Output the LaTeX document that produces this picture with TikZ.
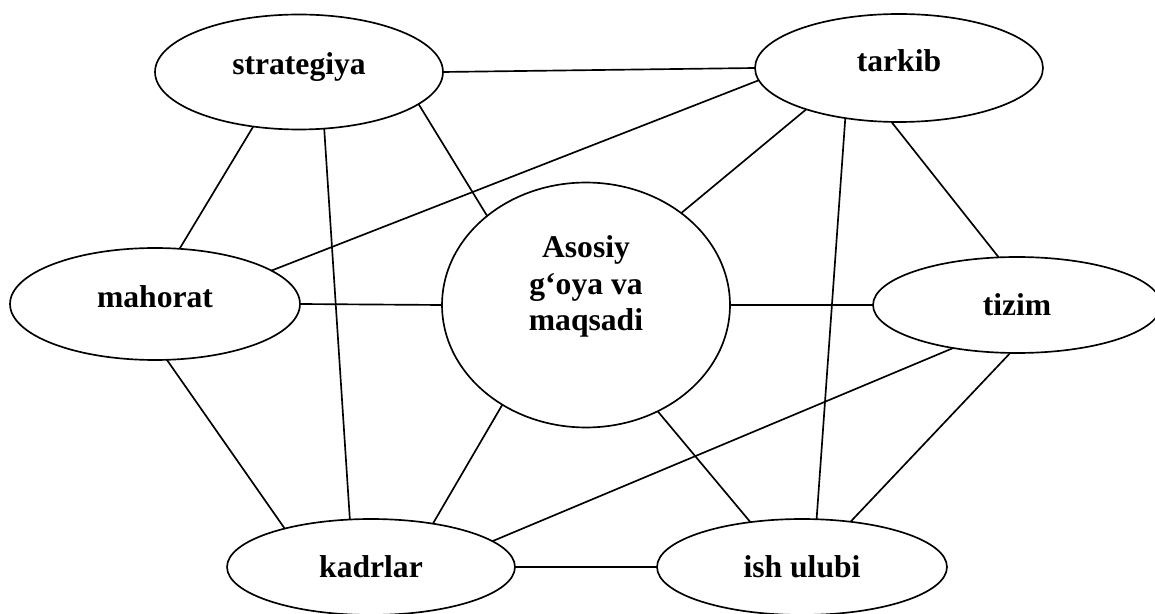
\documentclass[tikz,border=0pt]{standalone}
\usepackage{fontspec}
\setmainfont{Liberation Serif}
\usetikzlibrary{shapes.geometric}

\begin{document}
\begin{tikzpicture}[
    x=0.02cm, y=-0.02cm,
    bubble/.style={ellipse, draw, line width=0.95pt, inner sep=0pt, outer sep=0pt,
                   minimum width=5.76cm, minimum height=1.92cm, align=center,
                   font=\fontsize{18}{20.5}\selectfont\bfseries},
    link/.style={draw, line width=0.95pt}
]
    \useasboundingbox (0,0) rectangle (1155,614);
    % Central idea
    \node[bubble, minimum height=4.9cm, text depth=25pt] (goal) at (586,305) {Asosiy\\g‘oya va\\maqsadi};
    % Outer ring
    \node[bubble, minimum height=2.3cm, text depth=10pt] (strat) at (299,72) {strategiya};
    \node[bubble, minimum height=2.16cm, text depth=9pt] (tarkib) at (899,68) {tarkib};
    \node[bubble, minimum width=5.8cm, minimum height=2.24cm, text depth=9pt] (mahorat) at (155,304) {mahorat};
    \node[bubble] (tizim) at (1017,305) {tizim};
    \node[bubble] (kadrlar) at (371,567) {kadrlar};
    \node[bubble, minimum width=5.8cm] (ishulubi) at (802,567) {ish ulubi};
    % Connections
    \draw[link] (strat.0) -- (tarkib.180);
    \draw[link] (strat.230) -- (mahorat.66);
    \draw[link] (strat.294) -- (kadrlar.114);
    \draw[link] (strat.345) -- (goal.138.5);
    \draw[link] (tarkib.185) -- (mahorat.16.5);
    \draw[link] (tarkib.204) -- (goal.44);
    \draw[link] (tarkib.223) -- (ishulubi.73.7);
    \draw[link] (tarkib.262) -- (tizim.111.6);
    \draw[link] (mahorat.0) -- (goal.180);
    \draw[link] (mahorat.282) -- (kadrlar.156);
    \draw[link] (goal.0) -- (tizim.180);
    \draw[link] (goal.230.5) -- (kadrlar.35.8);
    \draw[link] (goal.304.7) -- (ishulubi.139);
    \draw[link] (tizim.214) -- (kadrlar.12.8);
    \draw[link] (tizim.262) -- (ishulubi.43.8);
    \draw[link] (kadrlar.0) -- (ishulubi.180);
\end{tikzpicture}
\end{document}
